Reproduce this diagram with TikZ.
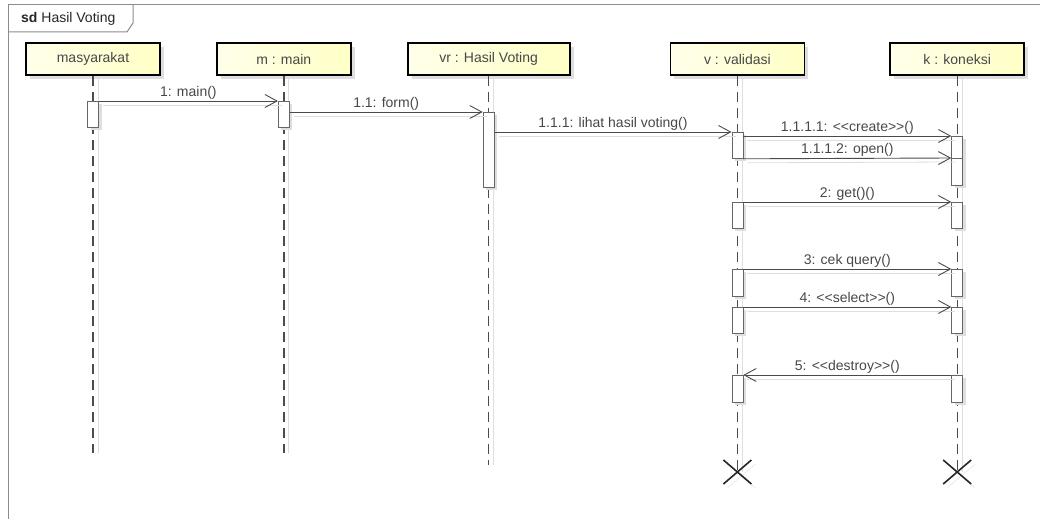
\documentclass[tikz,border=0pt]{standalone}
\usepackage{fontspec}
\setsansfont{Liberation Sans}
\usetikzlibrary{positioning, arrows.meta, shadows}
\definecolor{headleft}{HTML}{FFFFEA}
\definecolor{headright}{HTML}{FFFFC6}
\definecolor{msggray}{HTML}{4A4A4A}
\definecolor{framegray}{HTML}{8C8C8C}
\definecolor{shadegray}{HTML}{DEDEDE}

% keep << and >> apart so no guillemets appear
\newcommand{\dlt}{<\kern0pt<}
\newcommand{\dgt}{>\kern0pt>}

\tikzset{
  lifehead/.style={draw=black, line width=1.8pt, left color=headleft, right color=headright,
    minimum width=134pt, minimum height=32pt, inner sep=0pt,
    font=\fontsize{14}{16}\selectfont\sffamily, text=black!72,
    drop shadow={shadow xshift=4pt, shadow yshift=-4pt, fill=shadegray, opacity=1}},
  actbox/.style={draw=black!60, line width=0.8pt, fill=white, minimum width=11pt,
    inner sep=0pt, anchor=north,
    drop shadow={shadow xshift=3pt, shadow yshift=-3pt, fill=shadegray, opacity=1}},
  lifeline/.style={draw=black!70, line width=1.4pt, dash pattern=on 10pt off 6pt,
    preaction={draw=shadegray, solid, line width=0.8pt, transform canvas={xshift=5pt}}},
  msg/.style={draw=msggray, line width=0.9pt,
    -{Straight Barb[length=12pt, width=13pt, line width=0.9pt]},
    preaction={draw=shadegray, arrows=-, line width=0.8pt, transform canvas={xshift=4pt, yshift=-4pt}}},
  msglabel/.style={above, inner sep=1.5pt, font=\fontsize{14}{16}\selectfont\sffamily, text=black!72},
  destroy/.style={draw=black!85, line width=1.6pt,
    preaction={draw=shadegray, transform canvas={xshift=4pt, yshift=-4pt}}},
}

\begin{document}
\begin{tikzpicture}[x=1pt, y=-1pt]
  \useasboundingbox (0,0) rectangle (1040,519);

  % frame and its name tab
  \draw[framegray, line width=1pt] (8,519) -- (8,5) -- (1040,5);
  \draw[framegray, line width=1pt] (8,32) -- (127,32) -- (133,23) -- (133,5);
  \node[anchor=west, inner sep=0pt, font=\fontsize{14}{16}\selectfont\sffamily, text=black!85] (title)
    at (21,19) {\textbf{sd} Hasil Voting};

  % lifeline heads
  \node[lifehead] (masy) at (93,59) {masyarakat};
  \node[lifehead, right=55pt of masy] (main) {m : main};
  \node[lifehead, minimum width=162pt, right=55pt of main] (hasil) {vr : Hasil Voting};
  \node[lifehead, right=99pt of hasil] (valid) {v : validasi};
  \node[lifehead, right=84pt of valid] (kon) {k : koneksi};

  % lifelines
  \coordinate (vx) at (valid.south |- 0,472);
  \coordinate (kx) at (kon.south |- 0,472);
  \draw[lifeline] (masy.south) -- (masy.south |- 0,453);
  \draw[lifeline] (main.south) -- (main.south |- 0,453);
  \draw[lifeline] (hasil.south) -- (hasil.south |- 0,465);
  \draw[lifeline] (valid.south) -- (vx);
  \draw[lifeline] (kon.south) -- (kx);

  % activations
  \node[actbox, minimum height=26pt] (ma1) at (masy.south |- 0,101) {};
  \node[actbox, minimum height=26pt] (m1) at (main.south |- 0,101) {};
  \node[actbox, minimum height=75pt] (vr1) at (hasil.south |- 0,112) {};
  \node[actbox, minimum height=26pt] (v1) at (valid.south |- 0,132) {};
  \node[actbox, minimum height=22pt] (k1) at (kon.south |- 0,136) {};
  \node[actbox, minimum height=27pt] (k2) at (kon.south |- 0,158) {};
  \node[actbox, minimum height=26pt] (v2) at (valid.south |- 0,202) {};
  \node[actbox, minimum height=26pt] (k3) at (kon.south |- 0,202) {};
  \node[actbox, minimum height=27pt] (v3) at (valid.south |- 0,269) {};
  \node[actbox, minimum height=27pt] (k4) at (kon.south |- 0,269) {};
  \node[actbox, minimum height=26pt] (v4) at (valid.south |- 0,307) {};
  \node[actbox, minimum height=26pt] (k5) at (kon.south |- 0,307) {};
  \node[actbox, minimum height=27pt] (v5) at (valid.south |- 0,375) {};
  \node[actbox, minimum height=27pt] (k6) at (kon.south |- 0,375) {};

  % messages
  \draw[msg] (ma1.north east) -- node[msglabel] {1: main()} (m1.north west);
  \draw[msg] (m1.east |- vr1.north) -- node[msglabel] {1.1: form()} (vr1.north west);
  \draw[msg] (vr1.east |- v1.north) -- node[msglabel] {1.1.1: lihat hasil voting()} (v1.north west);
  \draw[msg] (v1.east |- k1.north) -- node[msglabel] {1.1.1.1: \dlt create\dgt()} (k1.north west);
  \draw[msg] (v1.south east) -- node[msglabel] {1.1.1.2: open()} (k2.north west);
  \draw[msg] (v2.north east) -- node[msglabel] {2: get()()} (k3.north west);
  \draw[msg] (v3.north east) -- node[msglabel] {3: cek query()} (k4.north west);
  \draw[msg] (v4.north east) -- node[msglabel] {4: \dlt select\dgt()} (k5.north west);
  \draw[msg] (k6.north west) -- node[msglabel] {5: \dlt destroy\dgt()} (v5.north east);

  % destruction marks
  \draw[destroy] (vx) +(-14,-12) -- +(14,12) (vx) +(-14,12) -- +(14,-12);
  \draw[destroy] (kx) +(-14,-12) -- +(14,12) (kx) +(-14,12) -- +(14,-12);
\end{tikzpicture}
\end{document}
